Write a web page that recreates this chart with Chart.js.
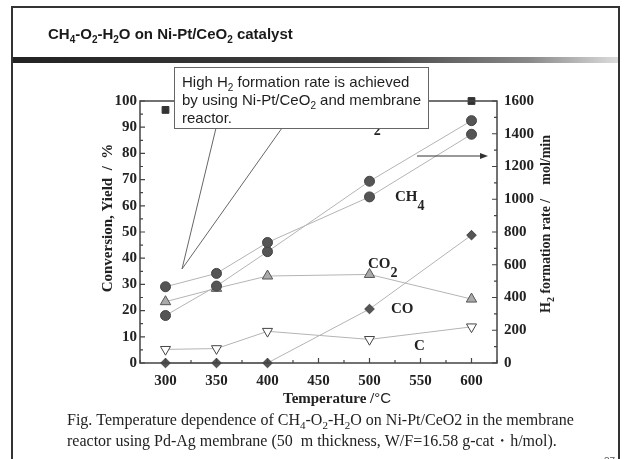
<!DOCTYPE html>
<html><head><meta charset="utf-8">
<script src="https://cdn.jsdelivr.net/npm/chart.js@4/dist/chart.umd.min.js"></script>
<style>html,body{margin:0;padding:0;background:#fff;overflow:hidden}#wrap{position:relative;width:625px;height:459px}</style>
</head><body><div id="wrap"><canvas id="c" width="625" height="459"></canvas></div>
<script>
// ---- data ----
const temperatures = [300, 350, 400, 500, 600];
const ch4Conversion = [29.1, 34.2, 46.0, 63.4, 87.3];      // % (left axis)
const h2Rate = [290, 470, 680, 1110, 1480];                // mol/min (right axis)
const o2Conversion = [96.6, null, null, null, 100];        // % (points under the callout are hidden)
const co2Yield = [23.4, 28.5, 33.2, 33.8, 24.4];           // %
const coYield = [0, 0, 0, 20.6, 48.8];                     // %
const cYield = [5.2, 5.5, 12.1, 9.0, 13.8];                // %
const xTicks = [300, 350, 400, 450, 500, 550, 600];
const leftTicks = [0, 10, 20, 30, 40, 50, 60, 70, 80, 90, 100];
const rightTicks = [0, 200, 400, 600, 800, 1000, 1200, 1400, 1600];

const SERIF = "'Liberation Serif','Times New Roman',serif";
const SANS = "'Liberation Sans',Arial,sans-serif";
const LINE = '#b4b4b4';
const pts = arr => temperatures.map((t, i) => ({x: t, y: arr[i]}));

function drawRich(ctx, parts, x, y, font, subFont, subDy) {
  let cx = x;
  for (const p of parts) {
    if (typeof p === 'string') { ctx.font = font; ctx.fillText(p, cx, y); cx += ctx.measureText(p).width; }
    else { ctx.font = subFont; ctx.fillText(p.sub, cx, y + subDy); cx += ctx.measureText(p.sub).width; }
  }
  return cx;
}

const decor = {
  id: 'decor',
  afterDraw(chart) {
    const ctx = chart.ctx;
    const {left, right, top, bottom} = chart.chartArea;
    const xs = chart.scales.x, ys = chart.scales.y, y2 = chart.scales.y2;
    ctx.save();
    // ---- slide frame ----
    ctx.strokeStyle = '#333'; ctx.lineWidth = 2;
    ctx.beginPath(); ctx.moveTo(12, 470); ctx.lineTo(12, 7); ctx.lineTo(619, 7); ctx.lineTo(619, 470); ctx.stroke();
    const g = ctx.createLinearGradient(12, 0, 619, 0);
    g.addColorStop(0, '#222'); g.addColorStop(0.6, '#444'); g.addColorStop(0.85, '#888'); g.addColorStop(1, '#ddd');
    ctx.fillStyle = g; ctx.fillRect(13, 57, 605, 6);
    ctx.fillStyle = '#1a1a1a'; ctx.textAlign = 'left'; ctx.textBaseline = 'alphabetic';
    drawRich(ctx, ['CH', {sub: '4'}, '-O', {sub: '2'}, '-H', {sub: '2'}, 'O on Ni-Pt/CeO', {sub: '2'}, ' catalyst'],
      48, 39, 'bold 15px ' + SANS, 'bold 10px ' + SANS, 4);

    // ---- plot frame ----
    ctx.strokeStyle = '#444'; ctx.lineWidth = 1.5;
    ctx.strokeRect(left, top, right - left, bottom - top);
    // inward ticks
    ctx.lineWidth = 1.2; ctx.beginPath();
    for (let v = 0; v <= 100; v += 5) {
      const p = ys.getPixelForValue(v), l = v % 10 === 0 ? 5 : 3;
      ctx.moveTo(left, p); ctx.lineTo(left + l, p);
    }
    for (let v = 0; v <= 1600; v += 100) {
      const p = y2.getPixelForValue(v), l = v % 200 === 0 ? 5 : 3;
      ctx.moveTo(right, p); ctx.lineTo(right - l, p);
    }
    for (let v = 275; v <= 625; v += 25) {
      const p = xs.getPixelForValue(v), l = v % 50 === 0 ? 5 : 3;
      ctx.moveTo(p, bottom); ctx.lineTo(p, bottom - l);
    }
    ctx.stroke();

    // ---- axis titles ----
    ctx.fillStyle = '#222';
    ctx.textAlign = 'left';
    ctx.font = 'bold 15px ' + SERIF;
    const xt = 'Temperature /';
    ctx.fillText(xt, 283, 403);
    const xw = ctx.measureText(xt).width;
    ctx.font = '15px ' + SANS; ctx.fillText('°C', 283 + xw, 403);

    ctx.save(); ctx.translate(107, 218); ctx.rotate(-Math.PI / 2);
    ctx.textAlign = 'center'; ctx.font = 'bold 15px ' + SERIF;
    ctx.fillText('Conversion, Yield  /  %', 0, 5); ctx.restore();

    ctx.save(); ctx.translate(545, 313); ctx.rotate(-Math.PI / 2); ctx.textAlign = 'left';
    drawRich(ctx, ['H', {sub: '2'}, ' formation rate /    mol/min'], 0, 5, 'bold 14px ' + SERIF, 'bold 10px ' + SERIF, 4);
    ctx.restore();

    // ---- series labels ----
    const lf = 'bold 15px ' + SERIF, sf = 'bold 14px ' + SERIF;
    drawRich(ctx, ['CH', {sub: '4'}], 395, 201, lf, sf, 9);
    drawRich(ctx, ['CO', {sub: '2'}], 368, 268, lf, sf, 9);
    drawRich(ctx, ['CO'], 391, 313, lf, sf, 9);
    drawRich(ctx, ['C'], 414, 350, lf, sf, 9);
    drawRich(ctx, ['O', {sub: '2'}], 362, 126, lf, sf, 9);

    // arrow to right axis (H2 formation rate)
    ctx.strokeStyle = '#333'; ctx.fillStyle = '#333'; ctx.lineWidth = 1;
    ctx.beginPath(); ctx.moveTo(417, 156); ctx.lineTo(482, 156); ctx.stroke();
    ctx.beginPath(); ctx.moveTo(488, 156); ctx.lineTo(480, 153); ctx.lineTo(480, 159); ctx.closePath(); ctx.fill();

    // ---- callout ----
    ctx.fillStyle = '#fff'; ctx.strokeStyle = '#666'; ctx.lineWidth = 1;
    ctx.beginPath(); ctx.moveTo(216, 128); ctx.lineTo(182, 269); ctx.lineTo(282, 128); ctx.closePath(); ctx.fill(); ctx.stroke();
    ctx.fillRect(174.5, 67.5, 254, 61); ctx.strokeRect(174.5, 67.5, 254, 61);
    ctx.fillStyle = '#1e1e1e';
    const cf = '15px ' + SANS, csf = '10px ' + SANS;
    drawRich(ctx, ['High H', {sub: '2'}, ' formation rate is achieved'], 182, 87, cf, csf, 4);
    drawRich(ctx, ['by using Ni-Pt/CeO', {sub: '2'}, ' and membrane'], 182, 105, cf, csf, 4);
    drawRich(ctx, ['reactor.'], 182, 123, cf, csf, 4);

    // ---- caption ----
    ctx.fillStyle = '#222';
    const pf = '16px ' + SERIF, psf = '11px ' + SERIF;
    drawRich(ctx, ['Fig. Temperature dependence of CH', {sub: '4'}, '-O', {sub: '2'}, '-H', {sub: '2'}, 'O on Ni-Pt/CeO2 in the membrane'], 67, 425, pf, psf, 4);
    drawRich(ctx, ['reactor using Pd-Ag membrane (50  m thickness, W/F=16.58 g-cat\u30FBh/mol).'], 67, 446, pf, psf, 4);
    ctx.font = '10px ' + SANS; ctx.fillStyle = '#555'; ctx.fillText('37', 604, 465);
    ctx.restore();
  }
};

const tickFont = {family: SERIF, size: 15, weight: 'bold'};
const plain = v => String(v);
new Chart(document.getElementById('c'), {
  type: 'line',
  data: {
    datasets: [
      {label: 'O2 conversion', data: pts(o2Conversion), yAxisID: 'y', showLine: false,
        pointStyle: 'rect', pointRadius: 4.8, pointBackgroundColor: '#333', pointBorderColor: '#333', pointBorderWidth: 1, clip: false},
      {label: 'CH4 conversion', data: pts(ch4Conversion), yAxisID: 'y', borderColor: LINE, borderWidth: 1,
        pointStyle: 'circle', pointRadius: 5, pointBackgroundColor: '#555', pointBorderColor: '#444', pointBorderWidth: 1, clip: false},
      {label: 'H2 formation rate', data: pts(h2Rate), yAxisID: 'y2', borderColor: LINE, borderWidth: 1,
        pointStyle: 'circle', pointRadius: 5, pointBackgroundColor: '#555', pointBorderColor: '#444', pointBorderWidth: 1, clip: false},
      {label: 'CO2', data: pts(co2Yield), yAxisID: 'y', borderColor: LINE, borderWidth: 1,
        pointStyle: 'triangle', pointRadius: 6, pointBackgroundColor: '#aaa', pointBorderColor: '#555', pointBorderWidth: 1, clip: false},
      {label: 'CO', data: pts(coYield), yAxisID: 'y', borderColor: LINE, borderWidth: 1,
        pointStyle: 'rectRot', pointRadius: 4.8, pointBackgroundColor: '#555', pointBorderColor: '#444', pointBorderWidth: 1, clip: false},
      {label: 'C', data: pts(cYield), yAxisID: 'y', borderColor: LINE, borderWidth: 1,
        pointStyle: 'triangle', pointRotation: 180, pointRadius: 5.8, pointBackgroundColor: '#fff', pointBorderColor: '#444', pointBorderWidth: 1, clip: false}
    ]
  },
  options: {
    responsive: false, animation: false, devicePixelRatio: 1,
    layout: {padding: {top: 101, left: 0, right: 0, bottom: 0}},
    plugins: {legend: {display: false}, tooltip: {enabled: false}},
    elements: {line: {tension: 0}},
    scales: {
      x: {type: 'linear', position: 'bottom', min: 275, max: 625,
        afterBuildTicks: s => { s.ticks = xTicks.map(v => ({value: v})); },
        afterFit: s => { s.height = 96; },
        grid: {display: false, drawTicks: false}, border: {display: false},
        ticks: {font: tickFont, color: '#222', padding: 9, maxRotation: 0, autoSkip: false, callback: plain}},
      y: {type: 'linear', position: 'left', min: 0, max: 100,
        afterBuildTicks: s => { s.ticks = leftTicks.map(v => ({value: v})); },
        afterFit: s => { s.width = 140; },
        grid: {display: false, drawTicks: false}, border: {display: false},
        ticks: {font: tickFont, color: '#222', padding: 3, autoSkip: false, callback: plain}},
      y2: {type: 'linear', position: 'right', min: 0, max: 1600,
        afterBuildTicks: s => { s.ticks = rightTicks.map(v => ({value: v})); },
        afterFit: s => { s.width = 128; },
        grid: {display: false, drawTicks: false}, border: {display: false},
        ticks: {font: tickFont, color: '#222', padding: 7, autoSkip: false, callback: plain}}
    }
  },
  plugins: [decor]
});
</script></body></html>
